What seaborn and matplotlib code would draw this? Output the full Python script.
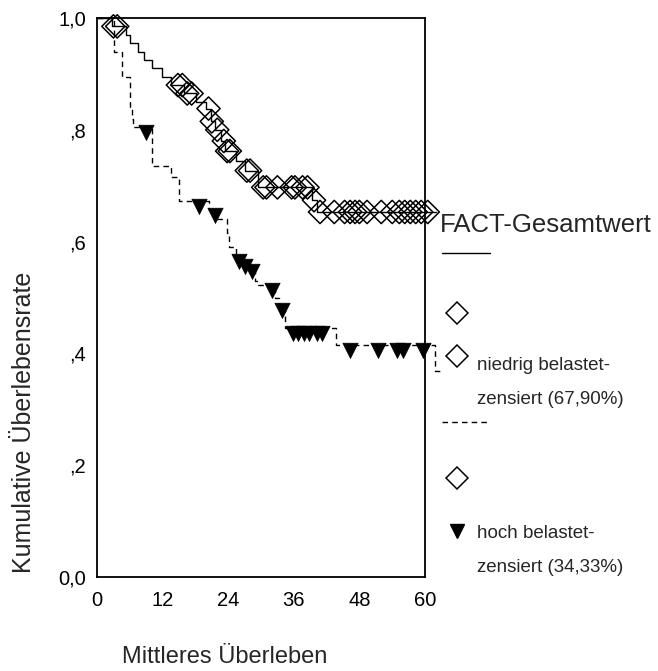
import numpy as np
import pandas as pd
import matplotlib
matplotlib.use("Agg")
import matplotlib.pyplot as plt
from matplotlib.lines import Line2D
import seaborn as sns

# ---------------- data ----------------
# Kaplan-Meier step curve, group "niedrig belastet" (solid line)
low_t = [0, 2.8, 5.3, 6.0, 7.5, 8.6, 10.0, 11.8, 13.5, 16.0, 18.2, 20.0, 20.8,
         21.6, 22.6, 23.5, 25.5, 27.0, 29.5, 39.3, 40.3, 62.0]
low_s = [1.0, 0.985, 0.97, 0.955, 0.94, 0.925, 0.91, 0.895, 0.88, 0.865, 0.85,
         0.838, 0.815, 0.80, 0.78, 0.762, 0.745, 0.727, 0.697, 0.674, 0.653, 0.653]
# censored times, group "niedrig belastet" (hollow diamonds)
low_cens = [3.0, 3.7, 14.8, 15.6, 16.5, 17.3, 20.4, 21.0, 22.0, 23.2, 23.8, 24.3,
            27.4, 28.0, 30.4, 31.0, 33.0, 35.6, 36.2, 37.6, 38.5, 39.7, 40.8,
            43.4, 45.3, 46.3, 47.2, 48.0, 49.4, 52.0, 54.0, 55.3, 56.3, 57.3,
            58.3, 59.3, 60.5]

# Kaplan-Meier step curve, group "hoch belastet" (dashed line)
high_t = [0, 3.1, 4.6, 6.0, 6.4, 6.6, 10.0, 13.6, 15.0, 20.5, 21.8, 23.7, 24.2,
          25.5, 26.6, 28.0, 28.9, 29.5, 32.6, 33.3, 34.3, 43.8, 61.8, 63.0]
high_s = [1.0, 0.94, 0.895, 0.84, 0.82, 0.805, 0.735, 0.715, 0.672, 0.657, 0.64,
          0.615, 0.59, 0.575, 0.565, 0.557, 0.53, 0.522, 0.50, 0.487, 0.445,
          0.415, 0.368, 0.368]
# censored times, group "hoch belastet" (filled triangles)
high_cens = [9.0, 18.7, 21.5, 26.0, 27.0, 28.4, 32.0, 33.8, 35.8, 36.8, 37.8,
             38.8, 40.2, 41.2, 46.2, 51.4, 54.9, 56.0, 59.6]

x_ticks = [0, 12, 24, 36, 48, 60]
y_ticks = [0.0, 0.2, 0.4, 0.6, 0.8, 1.0]
y_ticklabels = ["0,0", ",2", ",4", ",6", ",8", "1,0"]

title_legend = "FACT-Gesamtwert"
lab_low = ["niedrig belastet-", "zensiert (67,90%)"]
lab_high = ["hoch belastet-", "zensiert (34,33%)"]
x_label = "Mittleres Überleben"
y_label = "Kumulative Überlebensrate"


def step_value(ts, ss, t):
    idx = np.searchsorted(np.asarray(ts), t, side="right") - 1
    return ss[max(idx, 0)]


# SPSS-like censor triangle hanging just below the curve
tri_marker = [(-1.0, 0.3), (1.0, 0.3), (0.0, -1.7), (-1.0, 0.3)]

# ---------------- figure ----------------
sns.set_style("white")
plt.rcParams["font.family"] = ["Liberation Sans", "DejaVu Sans"]

W, H = 658, 671
fig = plt.figure(figsize=(W / 100, H / 100), dpi=100)
ax = fig.add_axes([97 / W, 1 - 577 / H, (425 - 97) / W, (577 - 18) / H])

curves = pd.concat([
    pd.DataFrame({"t": low_t, "s": low_s, "g": "niedrig"}),
    pd.DataFrame({"t": high_t, "s": high_s, "g": "hoch"}),
])
sns.lineplot(data=curves, x="t", y="s", hue="g", style="g",
             palette={"niedrig": "black", "hoch": "black"},
             dashes={"niedrig": "", "hoch": (4, 3)},
             drawstyle="steps-post", estimator=None, sort=False,
             linewidth=1.0, legend=False, clip_on=False, ax=ax)

low_c = pd.DataFrame({"t": low_cens,
                      "s": [step_value(low_t, low_s, t) for t in low_cens]})
high_c = pd.DataFrame({"t": high_cens,
                       "s": [step_value(high_t, high_s, t) for t in high_cens]})

sns.scatterplot(data=low_c, x="t", y="s", marker="D", s=140, color="black",
                linewidth=1.1, legend=False, clip_on=False, ax=ax, zorder=3)
coll = ax.collections[-1]
coll.set_facecolor("none")
coll.set_edgecolor("black")

sns.scatterplot(data=high_c, x="t", y="s", marker=tri_marker, s=350,
                color="black", edgecolor="black", linewidth=0.5, legend=False,
                clip_on=False, ax=ax, zorder=3)

ax.set_xlim(0, 60)
ax.set_ylim(0, 1)
ax.set_xticks(x_ticks)
ax.set_xticklabels([str(v) for v in x_ticks])
ax.set_yticks(y_ticks)
ax.set_yticklabels(y_ticklabels)
ax.set_xlabel("")
ax.set_ylabel("")
for sp in ax.spines.values():
    sp.set_visible(True)
    sp.set_color("black")
    sp.set_linewidth(1.3)
ax.tick_params(axis="both", which="major", direction="out", length=3, width=3,
               color="black", labelsize=14.5, labelcolor="black")
ax.tick_params(axis="x", pad=7)
ax.tick_params(axis="y", pad=5)
ax.grid(False)

# axis titles
fig.text(122 / W, 1 - 657 / H, x_label, fontsize=17, ha="left", va="center")
fig.text(24 / W, 1 - 422 / H, y_label, fontsize=18, rotation=90,
         ha="center", va="center")

# ---------------- legend (SPSS style, placed at the right) ----------------
def fx(px):
    return px / W


def fy(py):
    return 1 - py / H


fig.text(fx(440), fy(232), title_legend, fontsize=18.5, ha="left", va="baseline")
fig.add_artist(Line2D([fx(442), fx(490)], [fy(253), fy(253)], color="black", lw=1.0))
for py in (313, 356, 478):
    fig.add_artist(Line2D([fx(457)], [fy(py)], marker="D", ms=11.5, mfc="none",
                          mec="black", mew=1.1, ls=""))
fig.text(fx(477), fy(370), lab_low[0], fontsize=13.5, ha="left", va="baseline")
fig.text(fx(477), fy(404), lab_low[1], fontsize=13.5, ha="left", va="baseline")
fig.add_artist(Line2D([fx(442), fx(490)], [fy(422), fy(422)], color="black",
                      lw=1.0, dashes=(4, 3)))
fig.add_artist(Line2D([fx(457)], [fy(531)], marker="v", ms=10, mfc="black",
                      mec="black", ls=""))
fig.text(fx(477), fy(538), lab_high[0], fontsize=13.5, ha="left", va="baseline")
fig.text(fx(477), fy(572), lab_high[1], fontsize=13.5, ha="left", va="baseline")

fig.savefig("out.png", dpi=100, facecolor="white")
